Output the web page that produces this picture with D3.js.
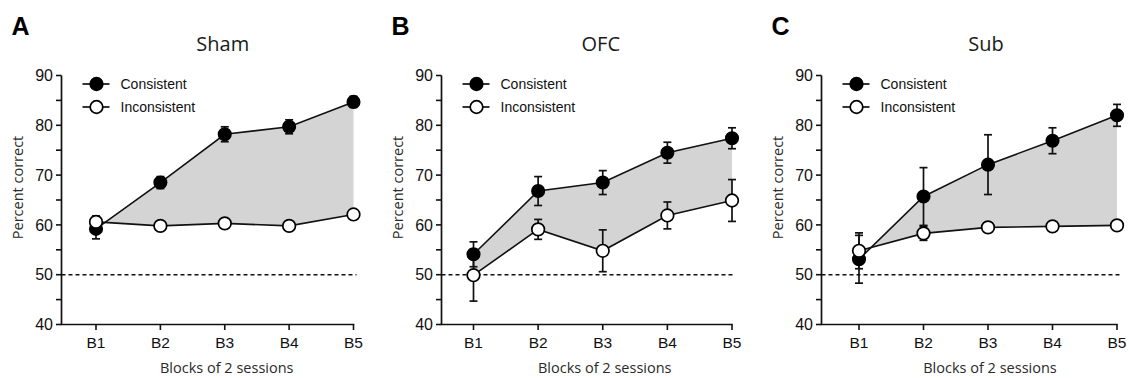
<!DOCTYPE html>
<html>
<head>
<meta charset="utf-8">
<script src="https://cdn.jsdelivr.net/npm/d3@7"></script>
<style>
  html, body { margin: 0; padding: 0; background: #fff; }
  svg { display: block; }
</style>
</head>
<body>
<svg id="chart" width="1129" height="378"></svg>
<script>
// ---------- data ----------
const blocks = ["B1", "B2", "B3", "B4", "B5"];
const groups = ["Sham", "OFC", "Sub"];
const panelLetters = ["A", "B", "C"];
const seriesNames = ["Consistent", "Inconsistent"];
const yTickLabels = [40, 50, 60, 70, 80, 90];
const yMinorTicks = [45, 55, 65, 75, 85];
const chanceLevel = 50;
const xAxisTitle = "Blocks of 2 sessions";
const yAxisTitle = "Percent correct";

const shamConsistent = [59.2, 68.5, 78.2, 79.7, 84.7];
const shamConsistentErr = [2.0, 1.2, 1.5, 1.4, 1.1];
const shamInconsistent = [60.6, 59.8, 60.3, 59.8, 62.1];
const shamInconsistentErr = [1.2, 0.5, 0.5, 0.5, 0.5];

const ofcConsistent = [54.1, 66.8, 68.5, 74.5, 77.4];
const ofcConsistentErr = [2.5, 2.9, 2.4, 2.1, 2.1];
const ofcInconsistent = [49.9, 59.1, 54.8, 61.9, 64.9];
const ofcInconsistentErr = [5.2, 2.0, 4.2, 2.7, 4.2];

const subConsistent = [53.1, 65.7, 72.1, 76.9, 82.0];
const subConsistentErr = [4.8, 5.8, 6.0, 2.6, 2.2];
const subInconsistent = [54.8, 58.3, 59.5, 59.7, 59.9];
const subInconsistentErr = [3.6, 1.4, 0.6, 0.6, 0.6];

const panelData = [
  { cons: shamConsistent, consErr: shamConsistentErr, inc: shamInconsistent, incErr: shamInconsistentErr },
  { cons: ofcConsistent, consErr: ofcConsistentErr, inc: ofcInconsistent, incErr: ofcInconsistentErr },
  { cons: subConsistent, consErr: subConsistentErr, inc: subInconsistent, incErr: subInconsistentErr }
];

// ---------- layout ----------
const layout = [
  { axisX: 61.5, x1: 96, x5: 353.5 },
  { axisX: 441.5, x1: 473.5, x5: 732 },
  { axisX: 821.5, x1: 859, x5: 1117 }
];
const yTop = 75.5, yBottom = 324.5;
const markerR = 6.3;
const capHalf = 4;
const fillColor = "#d4d4d4";
const sansNum = "Arial, 'Liberation Sans', Helvetica, sans-serif";
const sansText = "'Open Sans', 'Noto Sans', sans-serif";

const svg = d3.select("#chart");
const y = d3.scaleLinear().domain([40, 90]).range([yBottom, yTop]);

groups.forEach((g, pi) => {
  const L = layout[pi];
  const D = panelData[pi];
  const x = d3.scaleLinear().domain([0, blocks.length - 1]).range([L.x1, L.x5]);
  const G = svg.append("g");

  // panel letter
  G.append("text").attr("x", L.axisX - 50).attr("y", 34.5)
    .attr("font-family", sansNum).attr("font-weight", "bold").attr("font-size", 25)
    .text(panelLetters[pi]);

  // title
  G.append("text").attr("x", (L.x1 + L.x5) / 2 - 2).attr("y", 50.7)
    .attr("text-anchor", "middle").attr("font-family", sansText).attr("font-size", 20)
    .attr("fill", "#1a1a1a").text(g);

  // shaded area between the two series
  const idx = d3.range(blocks.length);
  const area = d3.area()
    .x(i => x(i))
    .y0(i => y(D.inc[i]))
    .y1(i => y(D.cons[i]));
  G.append("path").datum(idx).attr("d", area).attr("fill", fillColor).attr("stroke", "none");

  // chance line
  G.append("line").attr("x1", L.axisX).attr("x2", L.x5 + 3)
    .attr("y1", y(chanceLevel)).attr("y2", y(chanceLevel))
    .attr("stroke", "#111").attr("stroke-width", 1.5).attr("stroke-dasharray", "4,3");

  // y axis
  G.append("line").attr("x1", L.axisX).attr("x2", L.axisX)
    .attr("y1", y(90)).attr("y2", y(40)).attr("stroke", "#111").attr("stroke-width", 1.7);
  yTickLabels.concat(yMinorTicks).forEach(t => {
    G.append("line").attr("x1", L.axisX - 5.5).attr("x2", L.axisX)
      .attr("y1", y(t)).attr("y2", y(t)).attr("stroke", "#111").attr("stroke-width", 1.6);
  });
  yTickLabels.forEach(t => {
    G.append("text").attr("x", L.axisX - 8.5).attr("y", y(t)).attr("dy", "0.36em")
      .attr("text-anchor", "end").attr("font-family", sansNum).attr("font-size", 16)
      .attr("fill", "#111").text(t);
  });

  // x axis
  G.append("line").attr("x1", L.axisX - 0.8).attr("x2", L.x5 + 0.8)
    .attr("y1", yBottom).attr("y2", yBottom).attr("stroke", "#111").attr("stroke-width", 1.7);
  blocks.forEach((b, i) => {
    G.append("line").attr("x1", x(i)).attr("x2", x(i))
      .attr("y1", yBottom).attr("y2", yBottom + 5.5).attr("stroke", "#111").attr("stroke-width", 1.6);
    G.append("text").attr("x", x(i)).attr("y", 347.5)
      .attr("text-anchor", "middle").attr("font-family", sansNum).attr("font-size", 15.5)
      .attr("fill", "#111").text(b);
  });

  // axis titles
  G.append("text").attr("x", (L.x1 + L.x5) / 2 + 2).attr("y", 373)
    .attr("text-anchor", "middle").attr("font-family", sansText).attr("font-size", 14.5)
    .attr("fill", "#2a2a2a").text(xAxisTitle);
  G.append("text").attr("transform", `translate(${L.axisX - 39},187.5) rotate(-90)`)
    .attr("text-anchor", "middle").attr("font-family", sansText).attr("font-size", 14.5)
    .attr("fill", "#2a2a2a").text(yAxisTitle);

  const line = d3.line().x(i => x(i));
  // lines
  G.append("path").datum(idx).attr("d", line.y(i => y(D.cons[i])))
    .attr("fill", "none").attr("stroke", "#111").attr("stroke-width", 1.6);
  G.append("path").datum(idx).attr("d", line.y(i => y(D.inc[i])))
    .attr("fill", "none").attr("stroke", "#111").attr("stroke-width", 1.6);

  // error bars
  function errBars(vals, errs) {
    idx.forEach(i => {
      const top = y(vals[i] + errs[i]), bot = y(vals[i] - errs[i]);
      G.append("line").attr("x1", x(i)).attr("x2", x(i)).attr("y1", top).attr("y2", bot)
        .attr("stroke", "#111").attr("stroke-width", 1.7);
      [top, bot].forEach(yy => {
        G.append("line").attr("x1", x(i) - capHalf).attr("x2", x(i) + capHalf)
          .attr("y1", yy).attr("y2", yy).attr("stroke", "#111").attr("stroke-width", 1.7);
      });
    });
  }
  errBars(D.cons, D.consErr);
  errBars(D.inc, D.incErr);

  // markers
  idx.forEach(i => {
    G.append("circle").attr("cx", x(i)).attr("cy", y(D.cons[i])).attr("r", markerR)
      .attr("fill", "#000").attr("stroke", "#000").attr("stroke-width", 1.5);
  });
  idx.forEach(i => {
    G.append("circle").attr("cx", x(i)).attr("cy", y(D.inc[i])).attr("r", markerR)
      .attr("fill", "#fff").attr("stroke", "#000").attr("stroke-width", 1.7);
  });

  // legend
  seriesNames.forEach((s, k) => {
    const ly = 84 + k * 23;
    G.append("line").attr("x1", L.axisX + 21).attr("x2", L.axisX + 48)
      .attr("y1", ly).attr("y2", ly).attr("stroke", "#111").attr("stroke-width", 1.7);
    G.append("circle").attr("cx", L.axisX + 35).attr("cy", ly).attr("r", markerR)
      .attr("fill", k === 0 ? "#000" : "#fff").attr("stroke", "#000").attr("stroke-width", 1.7);
    G.append("text").attr("x", L.axisX + 59).attr("y", ly + 5)
      .attr("font-family", sansNum).attr("font-size", 14).attr("fill", "#111").text(s);
  });
});
</script>
</body>
</html>
